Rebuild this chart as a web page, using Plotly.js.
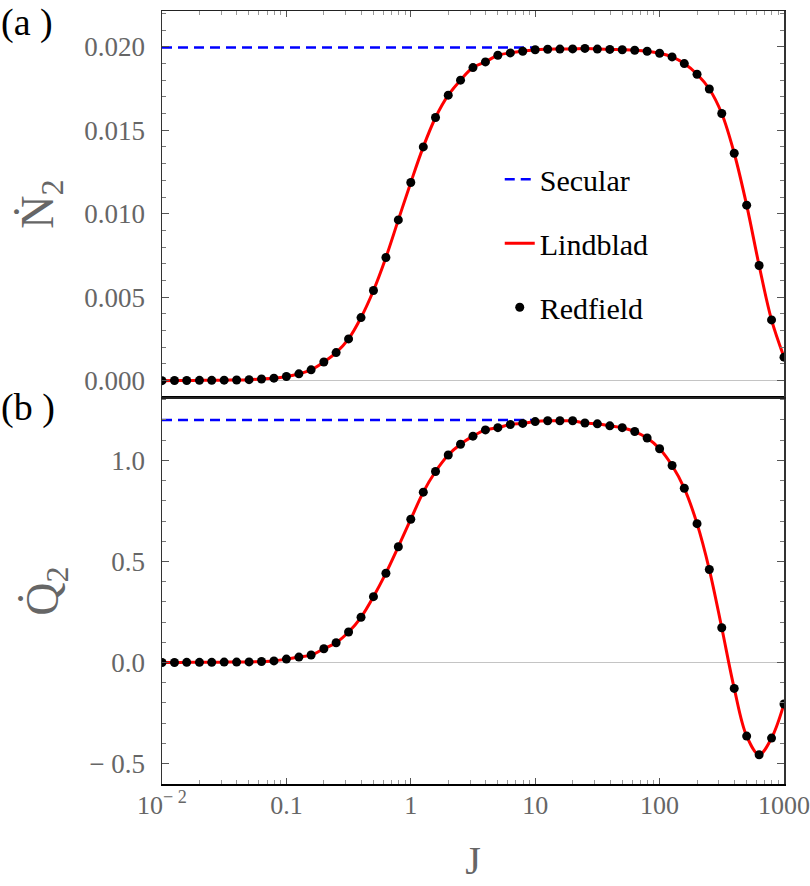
<!DOCTYPE html>
<html>
<head>
<meta charset="utf-8">
<script src="https://cdn.plot.ly/plotly-3.0.1.min.js"></script>
<style>html,body{margin:0;padding:0;background:#fff;}#chart{width:810px;height:886px;}</style>
</head>
<body>
<div id="chart"></div>
<script>
// Coupling strength J (log-spaced sample points)
const J = [0.01, 0.0126, 0.0158, 0.02, 0.0251, 0.0316, 0.0398, 0.0501, 0.0631, 0.0794,
  0.1, 0.126, 0.158, 0.2, 0.251, 0.316, 0.398, 0.501, 0.631, 0.794,
  1, 1.26, 1.58, 2, 2.51, 3.16, 3.98, 5.01, 6.31, 7.94,
  10, 12.6, 15.8, 20, 25.1, 31.6, 39.8, 50.1, 63.1, 79.4,
  100, 126, 158, 200, 251, 316, 398, 501, 631, 794, 1000];

// Panel (a): particle current N2
const N2 = [0.00000, 0.00001, 0.00001, 0.00002, 0.00002, 0.00003, 0.00004, 0.00006, 0.00010, 0.00015,
  0.00025, 0.00041, 0.00065, 0.00112, 0.00168, 0.00250, 0.00378, 0.00540, 0.00738, 0.00963,
  0.01187, 0.01400, 0.01576, 0.01710, 0.01800, 0.01875, 0.01909, 0.01949, 0.01963, 0.01973,
  0.01982, 0.01985, 0.01986, 0.01987, 0.01990, 0.01986, 0.01984, 0.01982, 0.01979, 0.01973,
  0.01961, 0.01939, 0.01899, 0.01835, 0.01747, 0.01600, 0.01362, 0.01051, 0.00690, 0.00364, 0.00141];

// Panel (b): heat current Q2
const Q2 = [0.000, 0.000, 0.001, 0.001, 0.001, 0.002, 0.002, 0.003, 0.005, 0.008,
  0.017, 0.027, 0.037, 0.068, 0.098, 0.151, 0.224, 0.326, 0.442, 0.573,
  0.709, 0.843, 0.945, 1.027, 1.080, 1.120, 1.151, 1.162, 1.178, 1.183,
  1.192, 1.196, 1.196, 1.196, 1.185, 1.181, 1.171, 1.162, 1.143, 1.111,
  1.058, 0.975, 0.862, 0.687, 0.460, 0.172, -0.128, -0.364, -0.456, -0.374, -0.205];

// Secular (weak-coupling) constants
const secularJ = [0.01, 10];
const secularN2 = [0.01995, 0.01995];
const secularQ2 = [1.2, 1.2];

const xTickVals = [0.01, 0.1, 1, 10, 100, 1000];
const xTickText = ['10<sup>− 2</sup>', '0.1', '1', '10', '100', '1000'];
const yTopTickVals = [0, 0.005, 0.010, 0.015, 0.020];
const yTopTickText = ['0.000', '0.005', '0.010', '0.015', '0.020'];
const yBotTickVals = [-0.5, 0, 0.5, 1.0];
const yBotTickText = ['− 0.5', '0.0', '0.5', '1.0'];

const SERIF = '"Liberation Serif", "Times New Roman", Times, serif';
const GRAY = '#666';

const traces = [
  {x: secularJ, y: secularN2, xaxis: 'x2', yaxis: 'y2', mode: 'lines', name: 'Secular',
   legendgroup: 's', line: {color: '#0000ff', width: 2.6, dash: '10px,6px'}},
  {x: J, y: N2, xaxis: 'x2', yaxis: 'y2', mode: 'lines', name: 'Lindblad',
   legendgroup: 'l', line: {color: '#ff0000', width: 3, shape: 'spline', smoothing: 1}},
  {x: J, y: N2, xaxis: 'x2', yaxis: 'y2', mode: 'markers', name: 'Redfield',
   legendgroup: 'r', marker: {color: '#000', size: 9}},
  {x: secularJ, y: secularQ2, xaxis: 'x', yaxis: 'y', mode: 'lines', showlegend: false,
   line: {color: '#0000ff', width: 2.6, dash: '10px,6px'}},
  {x: J, y: Q2, xaxis: 'x', yaxis: 'y', mode: 'lines', showlegend: false,
   line: {color: '#ff0000', width: 3, shape: 'spline', smoothing: 1}},
  {x: J, y: Q2, xaxis: 'x', yaxis: 'y', mode: 'markers', showlegend: false,
   marker: {color: '#000', size: 9}}
];

const commonX = {
  type: 'log', range: [-2, 3], showgrid: false, zeroline: false,
  ticks: 'inside', ticklen: 6, tickcolor: '#555', tickwidth: 1,
  minor: {ticks: 'inside', ticklen: 4, tickcolor: '#999', dtick: 'D1', showgrid: false},
  tickvals: xTickVals, ticktext: xTickText,
  showline: true, mirror: true
};

const layout = {
  width: 810, height: 886,
  margin: {l: 162, r: 26, t: 11, b: 102},
  paper_bgcolor: '#fff', plot_bgcolor: '#fff',
  font: {family: SERIF, color: GRAY},
  showlegend: true,
  legend: {x: 0.543, y: 0.816, xanchor: 'left', yanchor: 'top', traceorder: 'grouped',
           tracegroupgap: 22, bgcolor: 'rgba(0,0,0,0)', font: {family: SERIF, size: 30, color: '#000'}},
  xaxis: Object.assign({}, commonX, {
    anchor: 'y', side: 'bottom', linecolor: '#000', linewidth: 2.2,
    showticklabels: true, ticklabelstandoff: -3,
    tickfont: {family: SERIF, size: 26, color: GRAY},
    title: {text: 'J', font: {family: SERIF, size: 40, color: GRAY}, standoff: 27}
  }),
  xaxis2: Object.assign({}, commonX, {
    anchor: 'y2', side: 'top', matches: 'x', linecolor: '#222', linewidth: 1.5,
    showticklabels: false
  }),
  yaxis: {
    domain: [0, 0.4994], range: [-0.601, 1.309], showgrid: false,
    zeroline: true, zerolinecolor: '#c4c4c4', zerolinewidth: 1.5,
    showline: true, mirror: 'ticks', linecolor: '#333', linewidth: 1.5,
    ticks: 'inside', ticklen: 7, tickcolor: '#555',
    minor: {ticks: 'inside', ticklen: 4, tickcolor: '#777', dtick: 0.1, showgrid: false},
    tickvals: yBotTickVals, ticktext: yBotTickText, ticklabelstandoff: 10,
    tickfont: {family: SERIF, size: 27, color: GRAY},
    title: {text: 'Q\u0307<sub>2</sub>', font: {family: SERIF, size: 46, color: GRAY}, standoff: 16}
  },
  yaxis2: {
    domain: [0.5006, 1], range: [-0.00098, 0.02214], showgrid: false,
    zeroline: true, zerolinecolor: '#c4c4c4', zerolinewidth: 1.5,
    showline: true, mirror: 'ticks', linecolor: '#333', linewidth: 1.5,
    ticks: 'inside', ticklen: 7, tickcolor: '#555',
    minor: {ticks: 'inside', ticklen: 4, tickcolor: '#777', dtick: 0.001, showgrid: false},
    tickvals: yTopTickVals, ticktext: yTopTickText, ticklabelstandoff: 10,
    tickfont: {family: SERIF, size: 27, color: GRAY},
    title: {text: '\u1E44<sub>2</sub>', font: {family: SERIF, size: 46, color: GRAY}, standoff: 16}
  },
  annotations: [
    {text: '(a )', xref: 'paper', yref: 'paper', x: -0.262, y: 1.016, xanchor: 'left', yanchor: 'top',
     showarrow: false, font: {family: SERIF, size: 38, color: '#000'}},
    {text: '(b )', xref: 'paper', yref: 'paper', x: -0.262, y: 0.517, xanchor: 'left', yanchor: 'top',
     showarrow: false, font: {family: SERIF, size: 38, color: '#000'}}
  ]
};

Plotly.newPlot('chart', traces, layout, {displayModeBar: false, staticPlot: true});
</script>
</body>
</html>
